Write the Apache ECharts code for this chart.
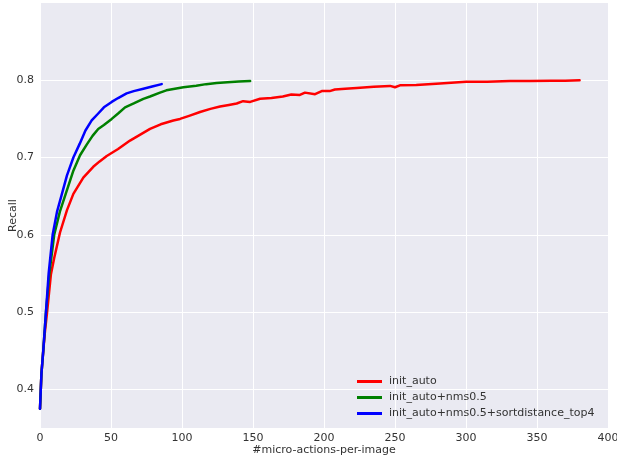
<!DOCTYPE html>
<html>
<head>
<meta charset="utf-8">
<script src="https://cdn.jsdelivr.net/npm/echarts@6/dist/echarts.min.js"></script>
<style>html,body{margin:0;padding:0;background:#fff;}#c{width:617px;height:456px;}</style>
</head>
<body>
<div id="c"></div>
<script>
const seriesNames = ['init_auto', 'init_auto+nms0.5', 'init_auto+nms0.5+sortdistance_top4'];
const xTicks = [0, 50, 100, 150, 200, 250, 300, 350, 400];
const yTicks = [0.4, 0.5, 0.6, 0.7, 0.8];

const redX = [0,1,2.3,3.5,5,7.7,10,14.1,19,23.5,30.5,37.5,42,47,55,63.4,70,77.5,85,93.9,98.6,105,112.7,120,126.8,133,138.5,143,148,155,163,171,177,183,186.6,193.7,198.4,204,207.7,215,223,235,246.5,250,253.5,265,281.7,300,315,331,345,360,370,380];
const redY = [0.375,0.42,0.45,0.475,0.5,0.549,0.57,0.603,0.632,0.653,0.674,0.688,0.695,0.702,0.711,0.722,0.729,0.737,0.743,0.748,0.750,0.754,0.759,0.763,0.766,0.768,0.770,0.773,0.772,0.776,0.777,0.779,0.7815,0.781,0.784,0.782,0.786,0.786,0.788,0.789,0.790,0.7915,0.7927,0.791,0.7935,0.794,0.7957,0.798,0.798,0.799,0.799,0.7995,0.7995,0.800];

const greenX = [0,1,2.3,4.2,6.6,10,14,18.8,23.5,28.2,33,37,41,45,50.5,55,59.9,66,72.8,77.5,84.5,89,95,101,110,117,124.4,132,140,148];
const greenY = [0.375,0.42,0.45,0.5,0.55,0.6,0.63,0.657,0.683,0.703,0.717,0.728,0.737,0.742,0.750,0.757,0.765,0.770,0.776,0.779,0.784,0.787,0.789,0.791,0.793,0.795,0.7966,0.7975,0.7985,0.799];

const blueX = [0,1,2.3,4.2,6.1,8.9,12,15.3,19,23.5,28,32,36.4,41,45,50.5,55,61,66,72.8,79,85.7];
const blueY = [0.375,0.42,0.45,0.5,0.55,0.6,0.63,0.652,0.677,0.70,0.718,0.735,0.748,0.757,0.765,0.772,0.777,0.783,0.786,0.789,0.792,0.795];

function pairs(xs, ys) { return xs.map((x, i) => [x, ys[i]]); }

const chart = echarts.init(document.getElementById('c'), null, {renderer: 'canvas'});
const font = 'DejaVu Sans';
const txt = '#333333';
const mk = (name, xs, ys, color) => ({
  name, type: 'line', data: pairs(xs, ys), showSymbol: false, symbol: 'none',
  smooth: false, lineStyle: {color, width: 2.5, join: 'round', cap: 'round'}, itemStyle: {color}, animation: false
});
chart.setOption({
  backgroundColor: '#ffffff',
  animation: false,
  grid: {left: 40, right: 9, top: 3, bottom: 28, show: true, backgroundColor: '#EAEAF2', borderWidth: 0,
    containLabel: false, outerBoundsMode: 'none'},
  xAxis: {
    type: 'value', min: 0, max: 400, interval: 50,
    name: '#micro-actions-per-image', nameLocation: 'middle', nameGap: 17, nameMoveOverlap: false,
    nameTextStyle: {fontFamily: font, fontSize: 11, color: txt},
    axisLine: {show: false}, axisTick: {show: false},
    axisLabel: {fontFamily: font, fontSize: 11, color: txt, margin: 5},
    splitLine: {show: true, lineStyle: {color: '#ffffff', width: 1}}
  },
  yAxis: {
    type: 'value', min: 0.35, max: 0.9,
    name: 'Recall', nameLocation: 'middle', nameGap: 21, nameMoveOverlap: false,
    nameTextStyle: {fontFamily: font, fontSize: 11, color: txt},
    axisLine: {show: false},
    axisTick: {show: false, customValues: yTicks},
    axisLabel: {fontFamily: font, fontSize: 11, color: txt, margin: 6, customValues: yTicks,
      formatter: v => v.toFixed(1)},
    splitLine: {show: true, lineStyle: {color: '#ffffff', width: 1}}
  },
  legend: {
    orient: 'vertical', left: 352, top: 371, itemWidth: 25, itemHeight: 3, itemGap: 5,
    icon: 'rect', textStyle: {fontFamily: font, fontSize: 11, color: txt, padding: [0, 0, 0, 2]},
    data: seriesNames
  },
  series: [
    mk(seriesNames[0], redX, redY, '#FF0000'),
    mk(seriesNames[1], greenX, greenY, '#008000'),
    mk(seriesNames[2], blueX, blueY, '#0000FF')
  ]
});
</script>
</body>
</html>
